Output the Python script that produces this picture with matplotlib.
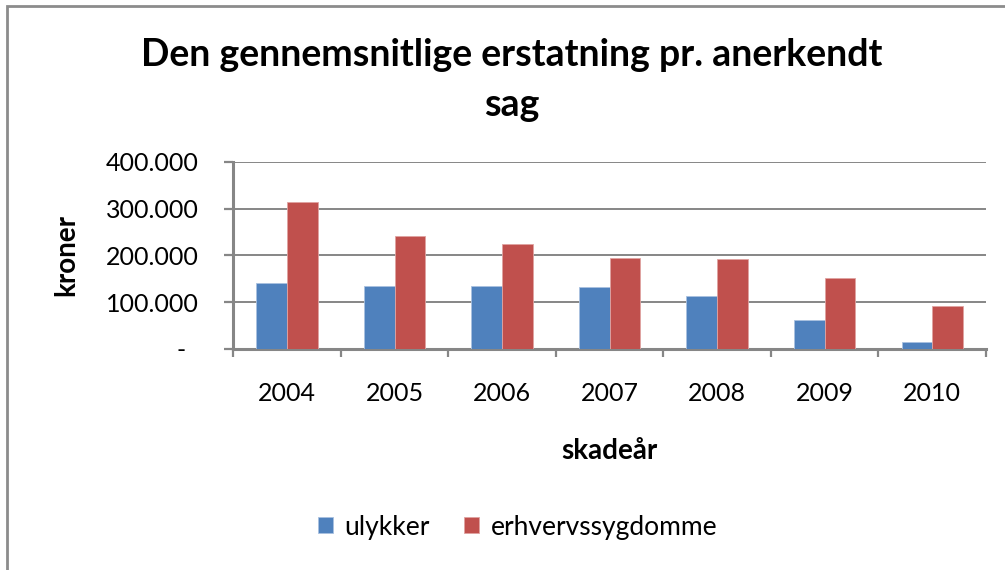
import matplotlib

matplotlib.use("Agg")
import matplotlib.pyplot as plt
import numpy as np
from matplotlib.patches import Rectangle
from matplotlib.ticker import FuncFormatter, MultipleLocator

years = ["2004", "2005", "2006", "2007", "2008", "2009", "2010"]
ulykker = [140000, 134000, 134000, 131500, 112000, 61500, 14000]
erhvervssygdomme = [314000, 242000, 224000, 194000, 191500, 151000, 91000]

BLUE = "#4F81BD"
RED = "#C0504D"
GRID = "#868686"
FONT = "Lato"

plt.rcParams["font.family"] = [FONT, "DejaVu Sans"]

fig = plt.figure(figsize=(10.05, 5.70), dpi=100)
ax = fig.add_axes([0.2322, 0.3882, 0.7489, 0.3276])

# outer chart frame (runs past right/bottom edge like the screenshot)
fig.patches.append(
    Rectangle((7 / 1005, -0.05), 1.2, 1 - 6 / 570 + 0.05, transform=fig.transFigure,
              fill=False, edgecolor="#8c8c8c", linewidth=2.0, zorder=0)
)

x = np.arange(len(years))
w = 1 / 3.5
ax.bar(x - w / 2, ulykker, w, color=BLUE, edgecolor="#a9c1e0", linewidth=0.6, zorder=3,
       label="ulykker")
ax.bar(x + w / 2, erhvervssygdomme, w, color=RED, edgecolor="#e0a3a1", linewidth=0.6,
       zorder=3, label="erhvervssygdomme")

ax.set_xlim(-0.5, len(years) - 0.5)
ax.set_ylim(0, 400000)
ax.yaxis.set_major_locator(MultipleLocator(100000))
ax.yaxis.set_major_formatter(
    FuncFormatter(lambda v, _: "-  " if v == 0 else f"{int(v):,}".replace(",", "."))
)
ax.grid(True, axis="y", color=GRID, linewidth=1.4, zorder=1)
ax.set_axisbelow(True)

ax.set_xticks(np.arange(len(years) + 1) - 0.5, minor=False)
ax.set_xticklabels([])
ax.set_xticks(x, minor=True)
ax.set_xticklabels(years, minor=True)
ax.tick_params(axis="x", which="major", length=5.8, width=1.6, color=GRID)
ax.tick_params(axis="x", which="minor", length=0, pad=24, labelsize=18)
ax.tick_params(axis="y", length=6.5, width=1.6, color=GRID, labelsize=18, pad=18.5)

for side in ["top", "right"]:
    ax.spines[side].set_visible(False)
for side in ["left", "bottom"]:
    ax.spines[side].set_color(GRID)
    ax.spines[side].set_linewidth(2.2)

ax.set_ylabel("kroner", fontsize=20, fontweight="bold", labelpad=19)
ax.set_xlabel("skadeår", fontsize=20, fontweight="bold", labelpad=24)

fig.text(0.509, 1 - 55 / 570, "Den gennemsnitlige erstatning pr. anerkendt", ha="center",
         va="center", fontsize=27, fontweight="bold")
fig.text(0.509, 1 - 105 / 570, "sag", ha="center", va="center", fontsize=27,
         fontweight="bold")

handles, labels = ax.get_legend_handles_labels()
fig.legend(handles, labels, loc="center", bbox_to_anchor=(0.515, 1 - 527 / 570), ncol=2,
           frameon=False, fontsize=19, handlelength=0.57, handleheight=0.57,
           handletextpad=0.45, columnspacing=1.28)

fig.savefig("out.png", dpi=100)
